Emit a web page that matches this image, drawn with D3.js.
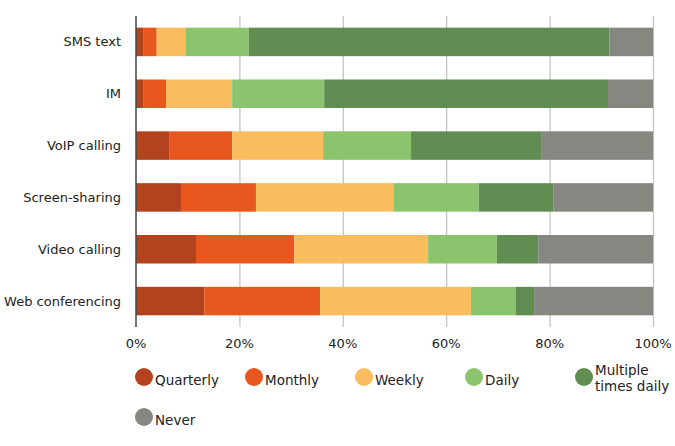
<!DOCTYPE html>
<html>
<head>
<meta charset="utf-8">
<script src="https://cdn.jsdelivr.net/npm/d3@7"></script>
<style>
  body { margin: 0; background: #fff; }
  svg { font-family: Verdana, "DejaVu Sans", sans-serif; }
</style>
</head>
<body>
<div id="vis"></div>
<script>
const width = 675;
const height = 446;

// categories and frequency series (percent of respondents)
const categories = ["SMS text", "IM", "VoIP calling", "Screen-sharing", "Video calling", "Web conferencing"];
const seriesNames = ["Quarterly", "Monthly", "Weekly", "Daily", "Multiple times daily", "Never"];
const quarterly = [1.5, 1.5, 6.4, 8.7, 11.6, 13.2];
const monthly   = [2.5, 4.3, 12.2, 14.5, 19.0, 22.4];
const weekly    = [5.6, 12.8, 17.6, 26.7, 25.9, 29.2];
const daily     = [12.2, 17.8, 17.0, 16.4, 13.3, 8.7];
const multiple  = [69.8, 54.9, 25.3, 14.4, 8.0, 3.5];
const never     = [8.4, 8.7, 21.5, 19.3, 22.2, 23.0];
const ticks = [0, 20, 40, 60, 80, 100];

const colors = ["#b3421f", "#e8571e", "#f9bc5f", "#8bc46d", "#628d52", "#878782"];

const table = categories.map((c, i) => ({
  name: c,
  "Quarterly": quarterly[i],
  "Monthly": monthly[i],
  "Weekly": weekly[i],
  "Daily": daily[i],
  "Multiple times daily": multiple[i],
  "Never": never[i]
}));

const stack = d3.stack().keys(seriesNames);
const series = stack(table);

const x = d3.scaleLinear().domain([0, 100]).range([136, 653]);
const y = d3.scaleBand().domain(categories).range([16, 327])
    .paddingInner(0.45).paddingOuter(0.225);
const color = d3.scaleOrdinal().domain(seriesNames).range(colors);

const svg = d3.select("#vis").append("svg")
    .attr("width", width)
    .attr("height", height);

// gridlines
svg.append("g")
  .selectAll("line")
  .data(ticks.slice(1))
  .join("line")
    .attr("x1", d => x(d) + 0.5)
    .attr("x2", d => x(d) + 0.5)
    .attr("y1", 16)
    .attr("y2", 327)
    .attr("stroke", "#c0c0c0")
    .attr("stroke-width", 1.2);

// bars
svg.append("g")
  .selectAll("g")
  .data(series)
  .join("g")
    .attr("fill", d => color(d.key))
  .selectAll("rect")
  .data(d => d)
  .join("rect")
    .attr("x", d => x(d[0]))
    .attr("width", d => x(d[1]) - x(d[0]))
    .attr("y", d => y(d.data.name))
    .attr("height", y.bandwidth());

// axis line
svg.append("line")
    .attr("x1", 136).attr("x2", 136)
    .attr("y1", 16).attr("y2", 327)
    .attr("stroke", "#444")
    .attr("stroke-width", 1.5);

// x tick labels
svg.append("g")
  .selectAll("text")
  .data(ticks)
  .join("text")
    .attr("x", d => x(d))
    .attr("y", 343)
    .attr("dy", "0.35em")
    .attr("text-anchor", "middle")
    .attr("font-size", 13)
    .attr("fill", "#222")
    .text(d => d + "%");

// category labels
svg.append("g")
  .selectAll("text")
  .data(categories)
  .join("text")
    .attr("x", 121)
    .attr("y", d => y(d) + y.bandwidth() / 2)
    .attr("dy", "0.35em")
    .attr("text-anchor", "end")
    .attr("font-size", 13)
    .attr("fill", "#222")
    .text(d => d);

// legend
const legend = svg.append("g")
  .selectAll("g")
  .data(seriesNames)
  .join("g")
    .attr("transform", (d, i) => {
      const col = i % 5, row = Math.floor(i / 5);
      return `translate(${144 + col * 110},${377 + row * 40})`;
    });

legend.append("circle")
    .attr("r", 9)
    .attr("fill", d => color(d));

legend.append("text")
    .attr("x", 11)
    .attr("font-size", 13.5)
    .attr("fill", "#222")
    .each(function(d) {
      const t = d3.select(this);
      if (d === "Multiple times daily") {
        t.append("tspan").attr("x", 11).attr("y", -7).attr("dy", "0.35em").text("Multiple");
        t.append("tspan").attr("x", 11).attr("y", 9).attr("dy", "0.35em").text("times daily");
      } else {
        t.attr("y", 3).attr("dy", "0.35em").text(d);
      }
    });
</script>
</body>
</html>
